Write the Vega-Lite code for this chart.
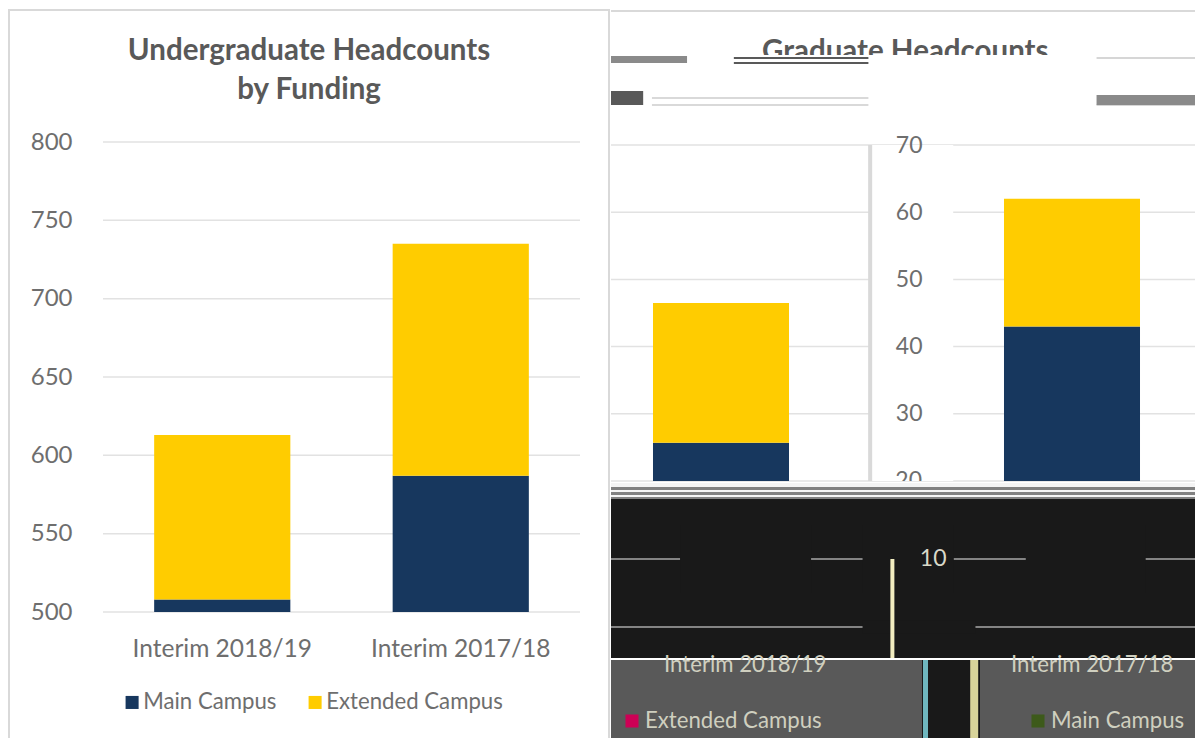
{"$schema":"https://vega.github.io/schema/vega-lite/v6.json","padding":{"left":8,"top":9,"right":0,"bottom":0},"background":"white","config":{"font":"Lato","view":{"stroke":null},"concat":{"spacing":0}},"datasets":{"under":[{"term":"Interim 2018/19","campus":"Main Campus","headcount":508},{"term":"Interim 2018/19","campus":"Extended Campus","headcount":105},{"term":"Interim 2017/18","campus":"Main Campus","headcount":587},{"term":"Interim 2017/18","campus":"Extended Campus","headcount":148}],"grad":[{"term":"Interim 2018/19","campus":"Main Campus","headcount":25.7},{"term":"Interim 2018/19","campus":"Extended Campus","headcount":20.8},{"term":"Interim 2017/18","campus":"Main Campus","headcount":43},{"term":"Interim 2017/18","campus":"Extended Campus","headcount":19}],"utick":[{"t":500},{"t":550},{"t":600},{"t":650},{"t":700},{"t":750},{"t":800}],"gtick":[{"t":20},{"t":30},{"t":40},{"t":50},{"t":60},{"t":70}]},"hconcat":[{"width":600,"height":729,"view":{"stroke":"#d9d9d9","strokeWidth":2,"fill":"white"},"title":{"text":["Undergraduate Headcounts","by Funding"],"fontSize":29.5,"fontWeight":"bold","color":"#595959","font":"Lato","offset":-95,"lineHeight":39,"anchor":"middle"},"resolve":{"scale":{"x":"independent"}},"layer":[{"data":{"name":"utick"},"mark":{"type":"rule","color":"#e2e2e2","strokeWidth":1.5},"encoding":{"x":{"datum":0,"type":"quantitative","scale":{"domain":[0,1],"range":[94,571]},"axis":null},"x2":{"datum":1},"y":{"field":"t","type":"quantitative","scale":{"domain":[500,800],"range":[602,132],"clamp":true,"nice":false,"zero":false},"axis":{"orient":"left","offset":-63,"values":[500,550,600,650,700,750,800],"grid":false,"domain":false,"ticks":false,"labelFontSize":24,"labelColor":"#6e6e6e","labelPadding":0,"title":null}}}},{"data":{"name":"under"},"mark":{"type":"bar","clip":false},"encoding":{"x":{"field":"term","type":"nominal","sort":null,"title":null,"scale":{"domain":["Interim 2018/19","Interim 2017/18"],"range":[94,571],"paddingInner":0.429,"paddingOuter":0.2145},"axis":{"orient":"bottom","offset":-127,"domain":false,"ticks":false,"labelAngle":0,"labelFontSize":24.5,"labelColor":"#6e6e6e","labelPadding":25,"labelFont":"Lato"}},"y":{"field":"headcount","type":"quantitative","stack":"zero","scale":{"domain":[500,800],"range":[602,132],"clamp":true,"nice":false,"zero":false},"title":null},"color":{"field":"campus","type":"nominal","scale":{"domain":["Main Campus","Extended Campus"],"range":["#17375e","#ffcc00"]},"legend":{"orient":"none","legendX":112,"legendY":681,"direction":"horizontal","title":null,"symbolType":"square","symbolSize":170,"symbolStrokeWidth":0,"labelFontSize":22.2,"labelColor":"#6e6e6e","columnPadding":27,"labelOffset":0,"labelLimit":300}},"order":{"field":"campus","sort":"descending"}}}]},{"vconcat":[{"width":584,"height":2,"view":{"fill":"#d9d9d9"},"data":{"values":[{}]},"mark":{"type":"rule","opacity":0},"encoding":{}},{"vconcat":[{"width":585,"height":43,"data":{"values":[{"name":"Graduate Headcounts"}]},"mark":{"type":"text","clip":true,"baseline":"alphabetic","fontSize":29.5,"fontWeight":"bold","color":"#595959"},"encoding":{"text":{"field":"name"},"x":{"datum":0.503,"type":"quantitative","scale":{"domain":[0,1],"range":[0,585]},"axis":null},"y":{"datum":0,"type":"quantitative","scale":{"domain":[0,1],"range":[49,0]},"axis":null}}},{"width":585,"height":90,"layer":[{"data":{"values":[{"y":5},{"y":10}]},"mark":{"type":"rule","color":"#595959","strokeWidth":2},"encoding":{"x":{"datum":0.21,"type":"quantitative","scale":{"domain":[0,1],"range":[0,585]},"axis":null},"x2":{"datum":0.44},"y":{"field":"y","type":"quantitative","scale":{"domain":[0,90],"range":[-2,88]},"axis":null}}},{"data":{"values":[{"y":45},{"y":52}]},"mark":{"type":"rule","color":"#d9d9d9","strokeWidth":2},"encoding":{"x":{"datum":0.07,"type":"quantitative"},"x2":{"datum":0.44},"y":{"field":"y","type":"quantitative"}}},{"data":{"values":[{"y":5},{"y":52}]},"mark":{"type":"rule","color":"#c9c9c9","strokeWidth":1.5},"encoding":{"x":{"datum":0.83,"type":"quantitative"},"x2":{"datum":1},"y":{"field":"y","type":"quantitative"}}},{"data":{"values":[{"y":38}]},"mark":{"type":"rect","color":"#595959"},"encoding":{"x":{"datum":0,"type":"quantitative"},"x2":{"datum":0.055},"y":{"datum":38,"type":"quantitative"},"y2":{"datum":52}}},{"data":{"values":[{"y":43}]},"mark":{"type":"rect","color":"#8a8a8a"},"encoding":{"x":{"datum":0.83,"type":"quantitative"},"x2":{"datum":1},"y":{"datum":42,"type":"quantitative"},"y2":{"datum":52}}},{"data":{"values":[{"y":3}]},"mark":{"type":"rect","color":"#8a8a8a"},"encoding":{"x":{"datum":0,"type":"quantitative"},"x2":{"datum":0.13},"y":{"datum":3,"type":"quantitative"},"y2":{"datum":10}}}]},{"width":585,"height":336,"resolve":{"scale":{"x":"independent"}},"layer":[{"data":{"name":"gtick"},"mark":{"type":"rule","color":"#e2e2e2","strokeWidth":1.5},"encoding":{"y":{"field":"t","type":"quantitative","scale":{"domain":[20,70],"clamp":true,"nice":false,"zero":false},"axis":{"orient":"left","offset":-311,"values":[30,40,50,60,70],"grid":false,"domain":false,"ticks":false,"labelFontSize":23,"labelColor":"#6e6e6e","labelPadding":0,"zindex":1,"title":null}}}},{"data":{"values":[{}]},"mark":{"type":"rect","color":"white"},"encoding":{"x":{"datum":0.443,"type":"quantitative","scale":{"domain":[0,1],"range":[0,585]},"axis":null},"x2":{"datum":0.585},"y":{"datum":20,"type":"quantitative"},"y2":{"datum":70.2}}},{"data":{"values":[{}]},"mark":{"type":"rule","color":"#d9d9d9","strokeWidth":4},"encoding":{"x":{"datum":0.443,"type":"quantitative","scale":{"domain":[0,1],"range":[0,585]},"axis":null},"y":{"datum":20,"type":"quantitative"},"y2":{"datum":70}}},{"data":{"values":[{"label":"20"}]},"mark":{"type":"text","clip":true,"align":"right","baseline":"middle","fontSize":23,"color":"#6e6e6e"},"encoding":{"text":{"field":"label"},"x":{"datum":0.5316,"type":"quantitative","scale":{"domain":[0,1],"range":[0,585]},"axis":null},"y":{"datum":20,"type":"quantitative"}}},{"data":{"name":"grad"},"mark":{"type":"bar"},"encoding":{"x":{"field":"term","type":"nominal","sort":null,"scale":{"domain":["Interim 2018/19","Interim 2017/18"],"range":[-65.5,636.5],"paddingInner":0.6125,"paddingOuter":0.30625},"axis":null},"y":{"field":"headcount","type":"quantitative","stack":"zero","title":null},"color":{"field":"campus","type":"nominal","scale":{"domain":["Main Campus","Extended Campus"],"range":["#17375e","#ffcc00"]},"legend":null},"order":{"field":"campus","sort":"descending"}}}]},{"width":585,"height":16,"view":{"fill":"#808080"},"data":{"values":[{"y":1},{"y":3},{"y":8},{"y":13}]},"mark":{"type":"rule","color":"#f4f4f4","strokeWidth":2},"encoding":{"y":{"field":"y","type":"quantitative","scale":{"domain":[0,16],"range":[0,16]},"axis":null}}},{"width":585,"height":159,"view":{"fill":"#191919"},"layer":[{"data":{"values":[{"k":0},{"k":10}]},"mark":{"type":"rule","color":"#a8a8a8","strokeWidth":1.5},"encoding":{"y":{"field":"k","type":"quantitative","scale":{"domain":[-4.56,18.82],"range":[159,0],"nice":false,"zero":false},"axis":{"orient":"left","offset":-335,"values":[0,10],"labelExpr":"datum.value === 10 ? '10' : ''","grid":false,"domain":false,"ticks":false,"labelFontSize":23,"labelColor":"#d8d8c8","labelPadding":0,"zindex":1,"title":null}}}},{"mark":{"type":"rect","color":"#191919"},"data":{"values":[{}]},"encoding":{"x":{"datum":0.118,"type":"quantitative","scale":{"domain":[0,1],"range":[0,585]},"axis":null},"x2":{"datum":0.342},"y":{"datum":15,"type":"quantitative"},"y2":{"datum":5}}},{"mark":{"type":"rect","color":"#191919"},"data":{"values":[{}]},"encoding":{"x":{"datum":0.43,"type":"quantitative"},"x2":{"datum":0.586},"y":{"datum":15,"type":"quantitative"},"y2":{"datum":5}}},{"mark":{"type":"rect","color":"#191919"},"data":{"values":[{}]},"encoding":{"x":{"datum":0.709,"type":"quantitative"},"x2":{"datum":0.914},"y":{"datum":15,"type":"quantitative"},"y2":{"datum":5}}},{"mark":{"type":"rect","color":"#191919"},"data":{"values":[{}]},"encoding":{"x":{"datum":0.43,"type":"quantitative"},"x2":{"datum":0.623},"y":{"datum":1,"type":"quantitative"},"y2":{"datum":-1}}},{"mark":{"type":"rule","color":"#f2edc0","strokeWidth":4},"data":{"values":[{}]},"encoding":{"x":{"datum":0.481,"type":"quantitative"},"y":{"datum":10,"type":"quantitative"},"y2":{"datum":-4.56}}}]},{"hconcat":[{"width":311,"height":82,"view":{"fill":"#595959"},"data":{"values":[{"txt":"Interim 2018/19","row":"axis"},{"txt":"Extended Campus","row":"legend"}]},"layer":[{"transform":[{"filter":"datum.row === 'legend'"}],"mark":{"type":"square","size":170,"opacity":1},"encoding":{"x":{"field":"txt","type":"nominal","sort":null,"scale":{"domain":["Extended Campus","Interim 2018/19"],"type":"point","range":[21,40],"padding":0},"axis":null},"y":{"field":"row","type":"nominal","scale":{"domain":["axis","legend"],"type":"point","range":[5,61],"padding":0},"axis":null},"color":{"value":"#cc0055"}}},{"mark":{"type":"text","align":"left","dx":13,"fontSize":22.2,"color":"#cfcfbf"},"encoding":{"text":{"field":"txt"},"x":{"field":"txt","type":"nominal","sort":null,"scale":{"domain":["Extended Campus","Interim 2018/19"],"type":"point","range":[21,40],"padding":0},"axis":null},"y":{"field":"row","type":"nominal","scale":{"domain":["axis","legend"],"type":"point","range":[5,61],"padding":0},"axis":null}}}]},{"width":58,"height":82,"view":{"fill":"#191919"},"layer":[{"mark":{"type":"rule","color":"#6fb7bf","strokeWidth":5},"data":{"values":[{}]},"encoding":{"x":{"datum":0.06,"type":"quantitative","scale":{"domain":[0,1],"range":[0,58]},"axis":null}}},{"mark":{"type":"rule","color":"#d8d49a","strokeWidth":8},"data":{"values":[{}]},"encoding":{"x":{"datum":0.9,"type":"quantitative"}}}]},{"width":216,"height":82,"view":{"fill":"#595959"},"data":{"values":[{"txt":"Interim 2017/18","row":"axis"},{"txt":"Main Campus","row":"legend"}]},"layer":[{"transform":[{"filter":"datum.row === 'legend'"}],"mark":{"type":"square","size":170,"opacity":1},"encoding":{"x":{"field":"txt","type":"nominal","sort":null,"scale":{"domain":["Main Campus","Interim 2017/18"],"type":"point","range":[58,18],"padding":0},"axis":null},"y":{"field":"row","type":"nominal","scale":{"domain":["axis","legend"],"type":"point","range":[5,61],"padding":0},"axis":null},"color":{"value":"#3d5a1a"}}},{"mark":{"type":"text","align":"left","dx":13,"fontSize":22.2,"color":"#cfcfbf"},"encoding":{"text":{"field":"txt"},"x":{"field":"txt","type":"nominal","sort":null,"scale":{"domain":["Main Campus","Interim 2017/18"],"type":"point","range":[58,18],"padding":0},"axis":null},"y":{"field":"row","type":"nominal","scale":{"domain":["axis","legend"],"type":"point","range":[5,61],"padding":0},"axis":null}}}]}],"bounds":"flush","spacing":0,"resolve":{"scale":{"x":"independent","y":"independent"}}}],"spacing":-26,"resolve":{"scale":{"x":"independent","y":"independent","color":"independent"}}}],"spacing":0,"resolve":{"scale":{"x":"independent","y":"independent","color":"independent"}}}],"spacing":0,"resolve":{"scale":{"color":"independent"}}}
